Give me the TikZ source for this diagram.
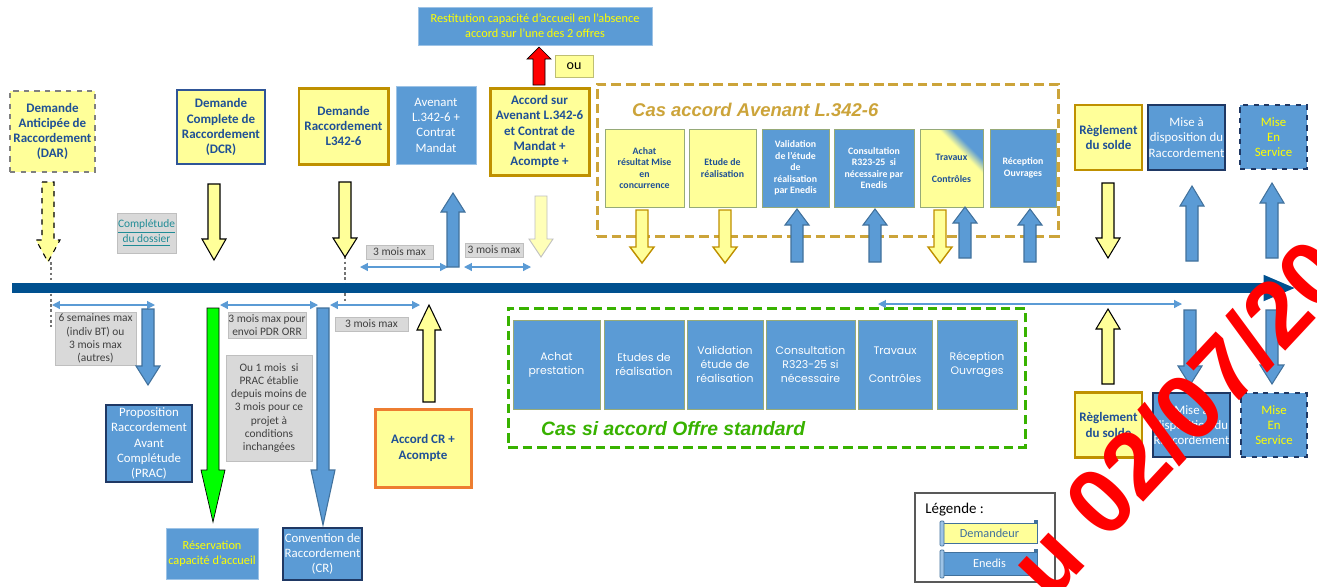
\documentclass[tikz,border=0pt]{standalone}
\usepackage{fontspec}
\setmainfont{Carlito}
\newfontfamily\arialfont{Liberation Sans}
\newfontfamily\geofont{Poppins}
\usetikzlibrary{arrows.meta,positioning}
\definecolor{edblue}{RGB}{91,155,213}
\definecolor{edborder}{RGB}{65,113,156}
\definecolor{navy}{RGB}{31,56,100}
\definecolor{dcrblue}{RGB}{47,85,151}
\definecolor{dmyellow}{RGB}{255,255,153}
\definecolor{txtblue}{RGB}{31,80,150}
\definecolor{txtyellow}{RGB}{255,255,0}
\definecolor{gold}{RGB}{191,144,0}
\definecolor{golddash}{RGB}{204,164,58}
\definecolor{graybox}{RGB}{217,217,217}
\definecolor{grayline}{RGB}{191,191,191}
\definecolor{timeline}{RGB}{0,80,143}
\definecolor{stdgreen}{RGB}{56,178,0}
\definecolor{brightgreen}{RGB}{0,255,0}
\definecolor{accorange}{RGB}{237,125,49}
\definecolor{linkteal}{RGB}{32,140,150}
\definecolor{stepline}{RGB}{150,170,120}
\pgfdeclarehorizontalshading{travshade}{100bp}{color(0bp)=(dmyellow); color(63bp)=(dmyellow); color(70bp)=(edblue); color(100bp)=(edblue)}
% block arrows: style, x, y start, y tip, head length
\newcommand{\arrowdown}[5]{%
  \draw[#1] (#2-6,#3) -- (#2+6,#3) -- (#2+6,#4-#5) -- (#2+12,#4-#5)
    -- (#2,#4) -- (#2-12,#4-#5) -- (#2-6,#4-#5) -- cycle;}
\newcommand{\arrowup}[5]{%
  \draw[#1] (#2-6,#3) -- (#2-6,#4+#5) -- (#2-12,#4+#5) -- (#2,#4)
    -- (#2+12,#4+#5) -- (#2+6,#4+#5) -- (#2+6,#3) -- cycle;}

\begin{document}
\begin{tikzpicture}[x=0.02cm, y=-0.02cm,
  sz/.style 2 args={minimum width=#1*0.02cm, minimum height=#2*0.02cm},
  dembox/.style={draw=gold, line width=1.7pt, fill=dmyellow, text=txtblue, font=\bfseries\fontsize{7.4}{8.6}\selectfont, align=center, inner sep=0pt},
  enedbox/.style={draw=navy, line width=1.1pt, fill=edblue, text=white, font=\fontsize{7.3}{8.7}\selectfont, align=center, inner sep=0pt},
  flatbox/.style={draw=edblue!60!white, line width=0.4pt, fill=edblue, text=white, font=\fontsize{7.3}{8.7}\selectfont, align=center, inner sep=0pt},
  delaybox/.style={draw=grayline, line width=0.5pt, fill=graybox, text=black!75, font=\fontsize{6.5}{7.5}\selectfont, align=center, inner sep=0pt},
  avstep/.style={draw=stepline, line width=0.5pt, fill=dmyellow, text=txtblue, font=\bfseries\fontsize{5.6}{6.6}\selectfont, align=center, inner sep=0pt},
  avstepb/.style={avstep, fill=edblue, text=white},
  stdstep/.style={draw=stepline, line width=0.5pt, fill=edblue, text=white, font=\geofont\fontsize{6.2}{8}\selectfont, align=center, inner sep=0pt},
  ydarr/.style={fill=dmyellow, draw=black, line width=0.6pt},
  goldarr/.style={fill=dmyellow, draw=gold, line width=0.8pt},
  bluarr/.style={fill=edblue, draw=edborder, line width=0.6pt},
  lightarr/.style={fill=dmyellow!70!white, draw=black!25, line width=0.5pt},
  grnarr/.style={fill=brightgreen},
  redarr/.style={fill=red},
  durarr/.style={draw=edblue, line width=0.7pt, {Triangle[length=4.5pt,width=4.5pt]}-{Triangle[length=4.5pt,width=4.5pt]}},
  guide/.style={draw=black!55, line width=0.6pt, dash pattern=on 1.5pt off 1.5pt}]

\useasboundingbox[fill=white] (0,0) rectangle (1317,586);

% frames of the two cases
\node[draw=golddash, line width=1.7pt, dash pattern=on 5.5pt off 2.8pt, sz={461}{152}] (avcase) at (827.5,160) {};
\node[draw=stdgreen, line width=1.7pt, dash pattern=on 5.5pt off 2.8pt, sz={517}{139}] (stdcase) at (766.5,377.5) {};
\node[anchor=west, text=golddash, font=\arialfont\bfseries\itshape\fontsize{10.5}{12}\selectfont] (avtitle) at (626,110) {Cas accord Avenant L.342-6};
\node[anchor=west, text=stdgreen, font=\arialfont\bfseries\itshape\fontsize{11}{13}\selectfont] (stdtitle) at (535,429) {Cas si accord Offre standard};

% top row
\node[dembox, draw=black!50, line width=0.9pt, dashed, sz={85}{81}] (dar) at (52.5,131.5) {Demande\\Anticipée de\\Raccordement\\(DAR)};
\node[dembox, draw=dcrblue, line width=1.3pt, sz={88}{74}] (dcr) at (221,127) {Demande\\Complete de\\Raccordement\\(DCR)};
\node[dembox, sz={89}{76}] (dl342) at (343.5,126) {Demande\\Raccordement\\L342-6};
\node[flatbox, sz={80}{78}] (avn) at (436,125) {Avenant\\L.342-6 +\\Contrat\\Mandat};
\node[dembox, sz={99}{87}] (acc) at (539.5,131.5) {Accord sur\\Avenant L.342-6\\et Contrat de\\Mandat +\\Acompte +};
\node[flatbox, text=txtyellow, font=\fontsize{7}{8.6}\selectfont, sz={234}{38}] (rest) at (535,26) {Restitution capacité d’accueil en l’absence\\accord sur l’une des 2 offres};
\node[fill=dmyellow, draw=dmyellow!75!black, line width=0.4pt, font=\fontsize{8}{9}\selectfont, inner sep=0pt, sz={38}{22}] (ou) at (574,66) {ou};

% steps of the Avenant case
\node[avstep, sz={79}{78}] (av1) at (644.5,168) {Achat\\résultat Mise\\en\\concurrence};
\node[avstep, sz={67}{78}] (av2) at (722.5,168) {Etude de\\réalisation};
\node[avstepb, sz={67}{78}] (av3) at (795.5,168) {Validation\\de l’étude\\de\\réalisation\\par Enedis};
\node[avstepb, sz={80}{78}] (av4) at (874,168) {Consultation\\R323-25\ \ si\\nécessaire par\\Enedis};
\node[avstep, shading=travshade, shading angle=45, sz={63}{78}] (av5) at (951.5,168) {Travaux\\[6pt]Contrôles};
\node[avstepb, sz={66}{78}] (av6) at (1023,168) {Réception\\Ouvrages};

\node[dembox, line width=1.3pt, sz={67}{65}] (reg1) at (1108.5,137.5) {Règlement\\du solde};
\node[enedbox, sz={77}{65}] (mad1) at (1186.5,137.5) {Mise à\\disposition du\\Raccordement};
\node[enedbox, dashed, text=txtyellow, sz={67}{64}] (mes1) at (1273.5,137) {Mise\\En\\Service};

\node[delaybox, text=linkteal, sz={59}{40}] (compl) at (146.5,233) {\underline{Complétude}\\\underline{du dossier}};
\node[delaybox, sz={67}{14}] (dly5) at (399.5,252) {3 mois max};
\node[delaybox, sz={58}{14}] (dly6) at (494,250) {3 mois max};

% bottom row
\node[delaybox, sz={81}{53}] (dly1) at (95.5,338.5) {6 semaines max\\(indiv BT) ou\\3 mois max\\(autres)};
\node[enedbox, sz={86}{77}] (prac) at (149,443.5) {Proposition\\Raccordement\\Avant\\Complétude\\(PRAC)};
\node[flatbox, text=txtyellow, font=\fontsize{7}{8.6}\selectfont, sz={92}{51}] (resv) at (212,553.5) {Réservation\\capacité d’accueil};
\node[delaybox, sz={78}{26}] (dly2) at (267,325) {3 mois max pour\\envoi PDR ORR};
\node[delaybox, sz={86}{106}] (dly3) at (269,408) {Ou 1 mois\ \ si\\PRAC établie\\depuis moins de\\3 mois pour ce\\projet à\\conditions\\inchangées};
\node[enedbox, sz={79}{52}] (conv) at (322.5,554) {Convention de\\Raccordement\\(CR)};
\node[delaybox, sz={73}{14}] (dly4) at (371.5,324) {3 mois max};
\node[dembox, draw=accorange, sz={96}{78}] (accr) at (423,448) {Accord CR +\\Acompte};

% steps of the standard case
\node[stdstep, sz={87}{89}] (st1) at (556.5,364.5) {Achat\\prestation};
\node[stdstep, sz={80}{89}] (st2) at (644,364.5) {Etudes de\\réalisation};
\node[stdstep, sz={76}{89}] (st3) at (725,364.5) {Validation\\étude de\\réalisation};
\node[stdstep, sz={89}{89}] (st4) at (810.5,364.5) {Consultation\\R323-25 si\\nécessaire};
\node[stdstep, sz={74}{89}] (st5) at (895,364.5) {Travaux\\[8pt]Contrôles};
\node[stdstep, sz={80}{89}] (st6) at (977,364.5) {Réception\\Ouvrages};

\node[dembox, line width=1.3pt, sz={67}{65}] (reg2) at (1108.5,425) {Règlement\\du solde};
\node[enedbox, sz={77}{64}] (mad2) at (1191.5,425) {Mise à\\disposition du\\Raccordement};
\node[enedbox, dashed, text=txtyellow, sz={66}{64}] (mes2) at (1274,425) {Mise\\En\\Service};

% legend
\node[draw=black!65, line width=0.6pt, sz={140}{89}] (leg) at (985,537.5) {};
\node[anchor=west, font=\fontsize{8.5}{10}\selectfont, inner sep=0pt] (legtitle) at (925,510) {Légende :};
\node[fill=dmyellow, draw=edborder, line width=0.5pt, text=edborder, font=\fontsize{7}{8}\selectfont, sz={95}{20}, inner sep=0pt] (legdem) at (989.5,533) {Demandeur};
\node[fill=edblue, draw=edborder, line width=0.5pt, text=white, font=\fontsize{7}{8}\selectfont, sz={95}{23}, inner sep=0pt] (legene) at (989.5,563.5) {Enedis};
\foreach \s in {legdem,legene} {
  \draw[fill=edblue!60, draw=edborder, line width=0.4pt, rounded corners=0.5pt] ([xshift=-0.03cm,yshift=0.03cm]\s.north west) rectangle ([xshift=0.05cm,yshift=-0.05cm]\s.south west);
  \draw[fill=edborder, draw=edborder] ([xshift=-0.06cm]\s.north east) rectangle ([yshift=0.05cm]\s.north east);
}

% guide lines and durations
\coordinate (gA1) at (51,262); \coordinate (gA2) at (51,327);
\coordinate (gB1) at (345,230); \coordinate (gB2) at (345,306);
\draw[guide] (gA1) -- (gA2);
\draw[guide] (gB1) -- (gB2);
\foreach \n/\xa/\xb/\yy in {a/52/155/305, b/220/318/305, c/330/420/305, d/360/448/267, e/464/531/267, f/878/1182/304} {
  \coordinate (dur\n1) at (\xa,\yy);
  \coordinate (dur\n2) at (\xb,\yy);
  \draw[durarr] (dur\n1) -- (dur\n2);
}

% time line
\coordinate (tstart) at (12,288);
\coordinate (tend) at (1296,288);
\draw[timeline, line width=5.7pt, -{Triangle[length=18.5pt,width=13.5pt]}] (tstart) -- (tend);

% arrows above the line
\arrowdown{ydarr,dashed}{48}{182}{262}{22}
\arrowdown{ydarr}{214}{184}{260}{21}
\arrowdown{ydarr}{345}{182}{257}{19}
\arrowup{bluarr}{453}{267}{193}{19}
\arrowdown{lightarr}{541}{196}{257}{18}
\arrowup{redarr}{539}{85}{47}{12}
\foreach \x in {642,725,940} {\arrowdown{goldarr}{\x}{210}{263}{16}}
\foreach \x in {797,875,1030} {\arrowup{bluarr}{\x}{262}{209}{16}}
\arrowup{bluarr}{965}{258}{207}{16}
\arrowdown{ydarr}{1108}{183}{258}{20}
\arrowup{bluarr}{1192}{261}{186}{20}
\arrowup{bluarr}{1272}{258}{183}{20}

% arrows below the line
\arrowdown{bluarr}{148}{309}{385}{19}
\arrowdown{grnarr}{213}{308}{522}{52}
\arrowdown{bluarr}{323}{308}{525}{55}
\arrowup{ydarr}{429}{402}{305}{25}
\arrowup{ydarr}{1108}{384}{309}{20}
\arrowdown{bluarr}{1190}{310}{385}{19}
\arrowdown{bluarr}{1272}{310}{384}{19}

% date stamp
\begin{scope}
\clip (0,0) rectangle (1317,586);
\node[text=red, rotate=47, inner sep=0pt, font=\arialfont\bfseries\fontsize{53}{53}\selectfont] (stamp) at (1178,418) {u 02/07/20};
\end{scope}
\end{tikzpicture}
\end{document}
